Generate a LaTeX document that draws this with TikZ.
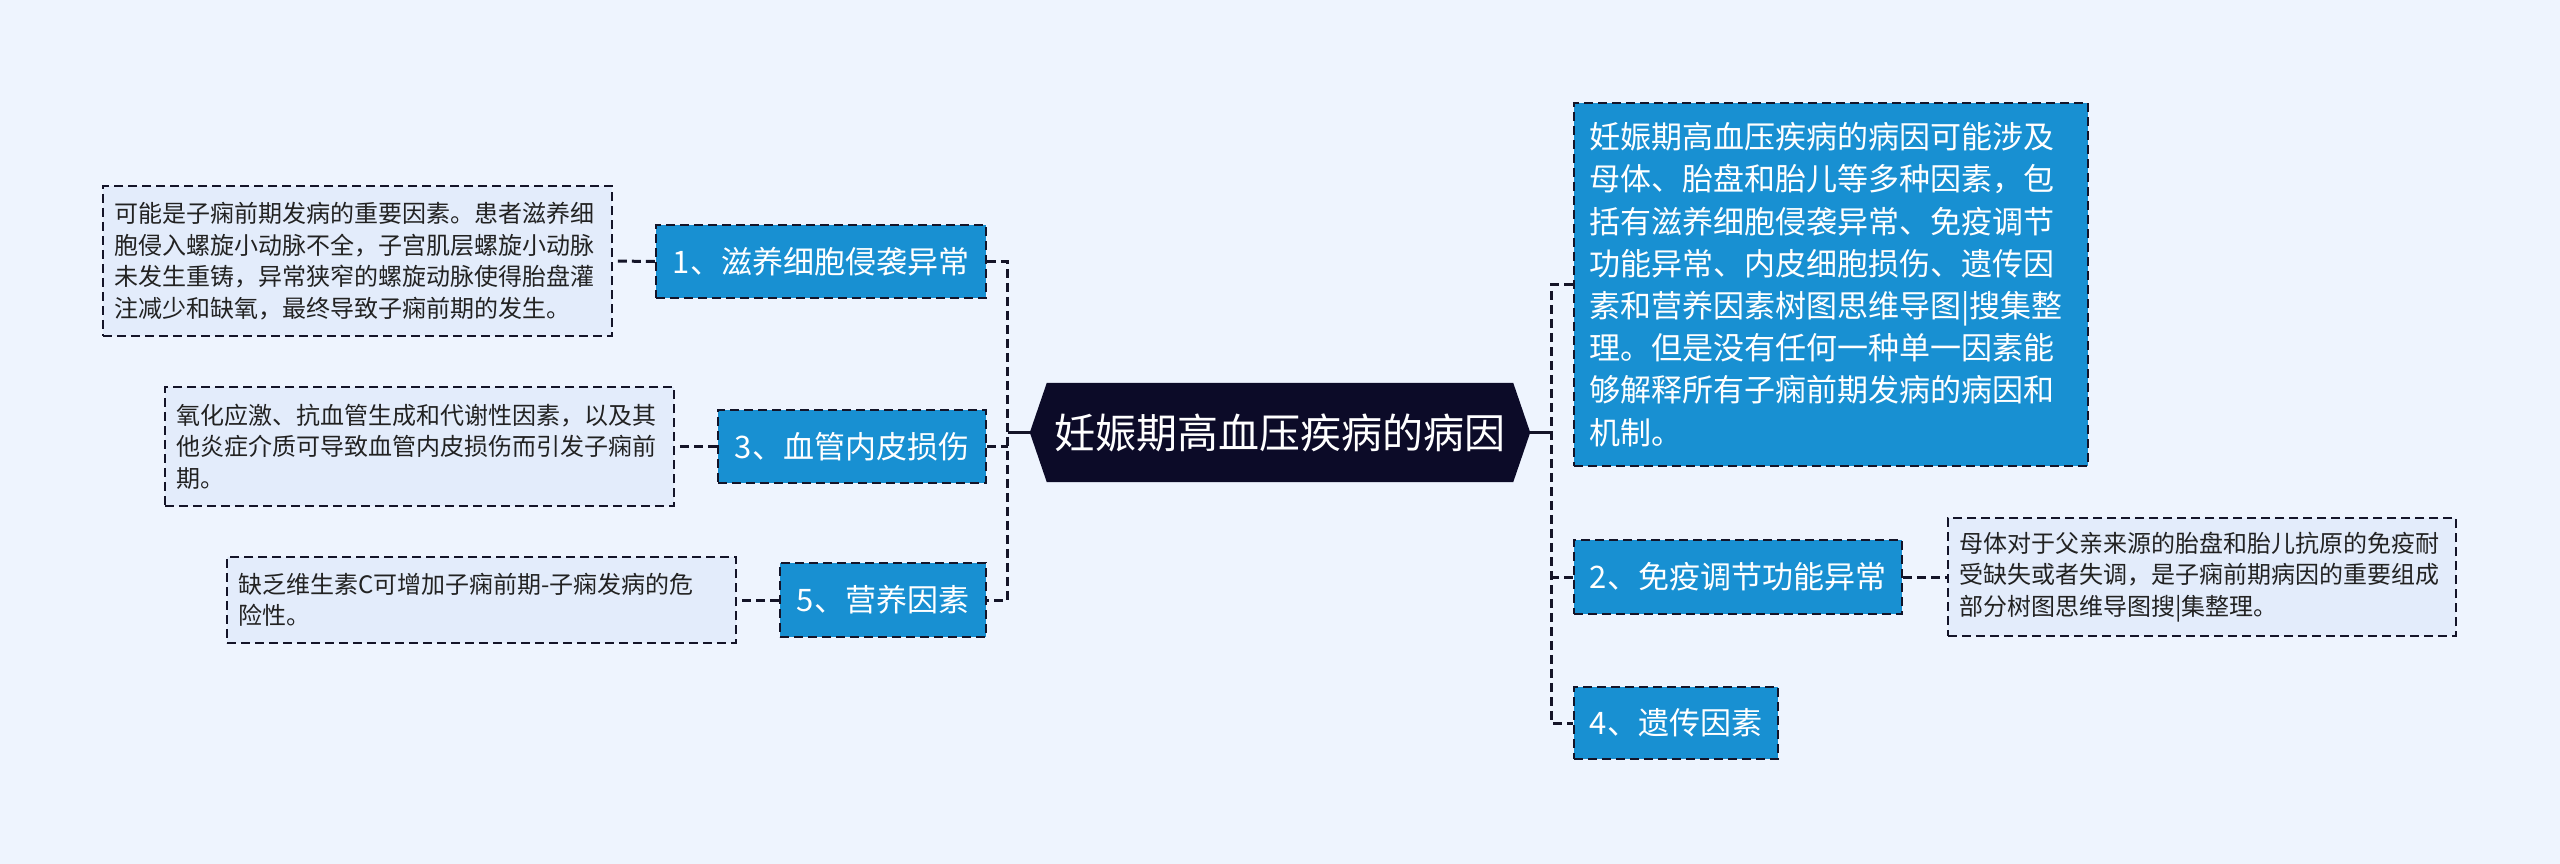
\documentclass[tikz,border=0pt]{standalone}
\usepackage{fontspec}
\setmainfont{Noto Sans CJK SC}
\usetikzlibrary{calc,backgrounds}
\definecolor{bg}{HTML}{EEF4FE}
\definecolor{blueb}{HTML}{1890D2}
\definecolor{navy}{HTML}{0C0B28}
\definecolor{notef}{HTML}{E3ECFB}
\definecolor{edge}{HTML}{141428}
\definecolor{ntext}{HTML}{222222}
\begin{document}
\begin{tikzpicture}[x=1pt,y=-1pt,
  dashy/.style={dash pattern=on 9pt off 5pt},
  bluebox/.style={fill=blueb, draw=edge, line width=2.4pt, dashy, text=white,
    font=\fontsize{31}{42}\selectfont, inner sep=0pt, align=center},
  bigbox/.style={fill=blueb, draw=edge, line width=2.4pt, dashy, text=white,
    font=\fontsize{31}{42.2}\selectfont, inner xsep=15pt, inner ysep=0pt, align=left},
  note/.style={fill=notef, draw=edge, line width=2.4pt, dashy, text=ntext,
    font=\fontsize{24}{31.5}\selectfont, inner xsep=11pt, inner ysep=0pt, align=left},
  rootnode/.style={inner sep=0pt, text=white, font=\fontsize{41}{48}\selectfont},
  conn/.style={draw=edge, line width=3pt, dashy},
  solidconn/.style={draw=edge, line width=3pt}]
\useasboundingbox (0,0) rectangle (2560,864);

% central node
\node[rootnode, minimum width=466, minimum height=99] (root) at (1280,432.5) {妊娠期高血压疾病的病因};
\coordinate (rootL) at ($(root.west)+(-17,0)$);
\coordinate (rootR) at ($(root.east)+(17,0)$);
\begin{pgfonlayer}{background}
\fill[bg] (0,0) rectangle (2560,864);
\fill[navy] (rootL) -- (root.north west) -- (root.north east) -- (rootR) -- (root.south east) -- (root.south west) -- cycle;
\end{pgfonlayer}
\coordinate (jL) at ($(rootL)+(-22,0)$);
\coordinate (jR) at ($(rootR)+(21,0)$);

% left branches
\node[bluebox, minimum width=330, minimum height=73] (b1) at (821,261.5) {1、滋养细胞侵袭异常};
\node[bluebox, minimum width=268, minimum height=73] (b3) at (852,446.5) {3、血管内皮损伤};
\node[bluebox, minimum width=206, minimum height=74] (b5) at (883,600) {5、营养因素};

\node[note, text width=487, minimum height=150] (n1) at (357.5,261) {可能是子痫前期发病的重要因素。患者滋养细\\胞侵入螺旋小动脉不全，子宫肌层螺旋小动脉\\未发生重铸，异常狭窄的螺旋动脉使得胎盘灌\\注减少和缺氧，最终导致子痫前期的发生。};
\node[note, text width=487, minimum height=119] (n3) at (419.5,446.5) {氧化应激、抗血管生成和代谢性因素，以及其\\他炎症介质可导致血管内皮损伤而引发子痫前\\期。};
\node[note, text width=487, minimum height=86] (n5) at (481.5,600) {缺乏维生素C可增加子痫前期-子痫发病的危\\险性。};

% right branches
\node[bigbox, text width=484, minimum height=363] (big) at (1831,284.5) {妊娠期高血压疾病的病因可能涉及\\母体、胎盘和胎儿等多种因素，包\\括有滋养细胞侵袭异常、免疫调节\\功能异常、内皮细胞损伤、遗传因\\素和营养因素树图思维导图|搜集整\\理。但是没有任何一种单一因素能\\够解释所有子痫前期发病的病因和\\机制。};
\node[bluebox, minimum width=328, minimum height=74] (b2) at (1738,577) {2、免疫调节功能异常};
\node[bluebox, minimum width=204, minimum height=72] (b4) at (1676,723) {4、遗传因素};
\node[note, text width=486, minimum height=118] (n2) at (2202,577) {母体对于父亲来源的胎盘和胎儿抗原的免疫耐\\受缺失或者失调，是子痫前期病因的重要组成\\部分树图思维导图搜|集整理。};

% connectors
\draw[solidconn] (rootL) -- (jL);
\draw[solidconn] (rootR) -- (jR);
\draw[conn] (b1.east) -| (jL) |- (b5.east);
\draw[conn] (b3.east) -- (b3.east -| jL);
\draw[conn] (big.west) -| (jR) |- (b4.west);
\draw[conn] (b2.west) -- (b2.west -| jR);
\draw[conn] (b1.west) -- (n1.east);
\draw[conn] (b3.west) -- (n3.east);
\draw[conn] (b5.west) -- (n5.east);
\draw[conn] (b2.east) -- (n2.west);
\end{tikzpicture}
\end{document}
